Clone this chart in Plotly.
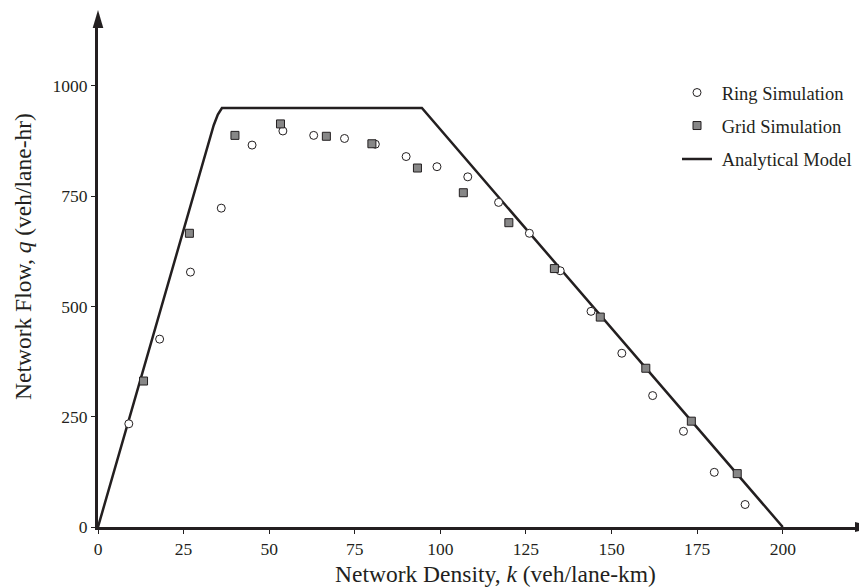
import plotly.graph_objects as go

# ---- data ----
ring_k = [9, 18, 27, 36, 45, 54, 63, 72, 81, 90, 99, 108, 117, 126, 135, 144, 153, 162, 171, 180, 189]
ring_q = [234, 426, 578, 723, 866, 898, 888, 881, 868, 840, 817, 794, 736, 666, 581, 489, 394, 298, 217, 124, 51]

grid_k = [13.3, 26.7, 40, 53.3, 66.7, 80, 93.3, 106.7, 120, 133.3, 146.7, 160, 173.3, 186.7]
grid_q = [331, 666, 888, 914, 886, 869, 814, 758, 690, 586, 476, 360, 240, 121]

model_k = [0, 33.8, 35.0, 36.2, 94.6, 200]
model_q = [0, 911, 935, 950, 950, 0]

x_ticks = [0, 25, 50, 75, 100, 125, 150, 175, 200]
y_ticks = [0, 250, 500, 750, 1000]

INK = "#231f20"
FONT = "Liberation Serif"

fig = go.Figure()
fig.add_trace(go.Scatter(x=model_k, y=model_q, mode="lines", name="\u00a0Analytical Model",
                         line=dict(color=INK, width=2.5), legend="legend3"))
fig.add_trace(go.Scatter(x=ring_k, y=ring_q, mode="markers", name="\u00a0Ring Simulation",
                         marker=dict(symbol="circle", size=8, color="white",
                                     line=dict(color=INK, width=1)), legend="legend"))
fig.add_trace(go.Scatter(x=grid_k, y=grid_q, mode="markers", name="\u00a0Grid Simulation",
                         marker=dict(symbol="square", size=8, color="#878787",
                                     line=dict(color=INK, width=1)), legend="legend2"))

L, R, T, B = 98, 4, 28, 61
W, H = 859, 588
pw, ph = W - L - R, H - T - B

def px_y(p):
    return (H - B - p) / ph

def px_x(p):
    return (p - L) / pw

legfont = dict(family=FONT, size=18.5, color=INK)
leg_x = px_x(677)
fig.update_layout(
    width=W, height=H,
    margin=dict(l=L, r=R, t=T, b=B, autoexpand=False),
    paper_bgcolor="white", plot_bgcolor="white",
    showlegend=True,
    legend=dict(x=leg_x, y=px_y(93), xanchor="left", yanchor="middle", font=legfont,
                bgcolor="rgba(0,0,0,0)", borderwidth=0),
    legend2=dict(x=leg_x, y=px_y(126), xanchor="left", yanchor="middle", font=legfont,
                 bgcolor="rgba(0,0,0,0)", borderwidth=0),
    legend3=dict(x=leg_x, y=px_y(159.5), xanchor="left", yanchor="middle", font=legfont,
                 bgcolor="rgba(0,0,0,0)", borderwidth=0),
    xaxis=dict(range=[0, 221.1], tickvals=x_ticks, ticks="outside", ticklen=4, tickwidth=1,
               tickcolor=INK, showline=True, linewidth=3, linecolor=INK, showgrid=False,
               zeroline=False, tickfont=dict(family=FONT, size=17.5, color=INK)),
    yaxis=dict(range=[0, 1131.5], tickvals=y_ticks, ticks="outside", ticklen=4, tickwidth=1,
               tickcolor=INK, showline=True, linewidth=3, linecolor=INK, showgrid=False,
               zeroline=False, tickfont=dict(family=FONT, size=17.5, color=INK)),
    annotations=[
        dict(text="Network Density, <i>k</i> (veh/lane-km)", xref="paper", yref="paper",
             x=px_x(496), y=px_y(574), xanchor="center", yanchor="middle", showarrow=False,
             font=dict(family=FONT, size=23.5, color=INK)),
        dict(text="Network Flow, <i>q</i> (veh/lane-hr)", xref="paper", yref="paper",
             x=px_x(23), y=px_y(257), xanchor="center", yanchor="middle", showarrow=False,
             textangle=-90, font=dict(family=FONT, size=23.5, color=INK)),
    ],
    shapes=[
        dict(type="path", xref="paper", yref="paper", xsizemode="pixel", ysizemode="pixel",
             xanchor=0, yanchor=1, path="M -5.3,0 L 5.3,0 L 0,18 Z",
             fillcolor=INK, line=dict(width=0)),
        dict(type="path", xref="paper", yref="paper", xsizemode="pixel", ysizemode="pixel",
             xanchor=1, yanchor=0, path="M 0,-5 L 0,5 L 19,0 Z",
             fillcolor=INK, line=dict(width=0)),
    ],
)

fig.write_html("out.html")
